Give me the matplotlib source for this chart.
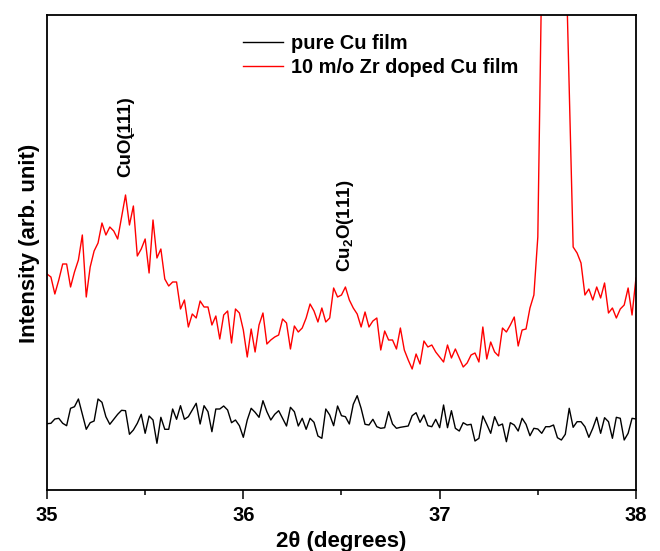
import numpy as np
import matplotlib
matplotlib.use("Agg")
import matplotlib.pyplot as plt

plt.rcParams['font.family'] = ['Liberation Sans', 'DejaVu Sans']
plt.rcParams['font.weight'] = 'bold'
plt.rcParams['mathtext.fontset'] = 'custom'
plt.rcParams['mathtext.rm'] = 'Liberation Sans:bold'
plt.rcParams['mathtext.bf'] = 'Liberation Sans:bold'

# 2theta grid, 0.02 deg steps from 35 to 38
two_theta = np.round(np.arange(151) * 0.02 + 35.0, 2)

# pure Cu film (arb. units)
pure_cu = [66.3, 66.7, 71, 71.7, 66.7, 64.3, 81.7, 83.3, 91, 75.7,
           60.7, 67.3, 69, 91, 87.7, 73.3, 65.7, 70.7, 75.7, 79.7,
           79.3, 55.7, 60, 66.7, 75.7, 56.7, 74, 70, 46.7, 72.7,
           60.7, 60.7, 81, 70.7, 84.3, 70.7, 73.3, 80, 86.7, 66,
           84.3, 78.3, 58.3, 81, 81, 84, 80, 67.3, 70, 64.3,
           52.7, 70, 81.7, 77.7, 72.7, 89.3, 78.3, 70, 75.7, 79.3,
           71.7, 64, 82.7, 78.3, 64, 71.7, 60.7, 71.7, 67.7, 54,
           51.7, 81, 75, 64.3, 84, 74.3, 73.3, 66, 85.7, 94.3,
           81.7, 65.7, 65, 70.7, 63.3, 61.7, 62.3, 78.3, 66, 61.7,
           62.7, 63.3, 64, 74.3, 77.3, 67.7, 75, 64.3, 63.3, 70.7,
           62.3, 85, 62.3, 79.3, 61.7, 59, 67.3, 65, 65.7, 49,
           51.7, 74, 65.7, 56.7, 73.3, 64.3, 66, 48.3, 67.3, 65,
           59, 71.7, 65.7, 54.3, 61.7, 61, 56.7, 63.3, 63.3, 65,
           52.3, 50, 55.7, 81.7, 62.7, 68.3, 68.3, 63.3, 52.7, 61.7,
           72.7, 56.7, 72.3, 68.3, 51.7, 72.7, 71.7, 50, 56.7, 71.7,
           71]

# 10 m/o Zr doped Cu film (arb. units)
zr_doped = [216, 213, 196, 210, 226, 226, 203, 218, 230, 255,
            193, 223, 239, 247, 267, 255, 263, 259, 251, 273,
            295, 265, 284, 234, 241, 251, 217, 270, 232, 241,
            211, 204, 208, 208, 181, 190, 163, 176, 172, 189,
            183, 183, 165, 174, 151, 175, 179, 147, 181, 177,
            160, 133, 161, 138, 165, 177, 146, 150, 153, 155,
            171, 167, 141, 164, 158, 162, 172, 186, 179, 168,
            182, 168, 172, 202, 193, 195, 203, 190, 182, 176,
            163, 178, 163, 169, 172, 140, 159, 150, 150, 141,
            162, 140, 130, 121, 136, 126, 149, 143, 145, 138,
            133, 128, 145, 132, 141, 132, 123, 127, 135, 137,
            128, 163, 131, 148, 138, 134, 162, 158, 165, 173,
            144, 160, 161, 182, 195, 253, 520, 700, 800, 820,
            780, 700, 560, 400, 243, 237, 227, 195, 201, 190,
            203, 192, 207, 177, 182, 172, 181, 185, 202, 175,
            212]

# underline on the first "1" (combining low line placed before it)
peak_labels = ['CuO(\u0332111)', 'Cu$_\\mathbf{2}$O(111)']
peak_pos = [35.4, 36.52]
peak_y = [313, 218]

fig = plt.figure(figsize=(6.6, 5.51), dpi=100)
ax = fig.add_axes([0.0712, 0.1107, 0.8924, 0.8621])

ax.plot(two_theta, pure_cu, color='black', lw=1.0, label='pure Cu film')
ax.plot(two_theta, zr_doped, color='red', lw=1.0, label='10 m/o Zr doped Cu film')

for lab, xp, yp in zip(peak_labels, peak_pos, peak_y):
    ax.text(xp, yp, lab, rotation=90, ha='center', va='bottom',
            fontsize=13.5, fontweight='bold')

ax.set_xlim(35, 38)
ax.set_ylim(0, 475)
ax.set_xticks([35, 36, 37, 38])
ax.set_xticks([35.5, 36.5, 37.5], minor=True)
ax.set_yticks([])
ax.tick_params(axis='x', which='major', direction='out', length=6.5, width=1.1,
               labelsize=14.5, pad=5)
ax.tick_params(axis='x', which='minor', direction='out', length=3.5, width=1.1)
for t in ax.get_xticklabels():
    t.set_fontweight('bold')
for sp in ax.spines.values():
    sp.set_linewidth(1.3)

ax.set_xlabel('2\u03b8 (degrees)', fontsize=16, fontweight='bold', labelpad=4)
ax.set_ylabel('Intensity (arb. unit)', fontsize=16, fontweight='bold')
ax.yaxis.set_label_coords(-0.012, 0.52)

ax.legend(loc='upper left', bbox_to_anchor=(0.302, 0.997), frameon=False,
          fontsize=14.4, handlelength=2.0, handletextpad=0.4, labelspacing=0.25)

fig.savefig('out.png', dpi=100)
